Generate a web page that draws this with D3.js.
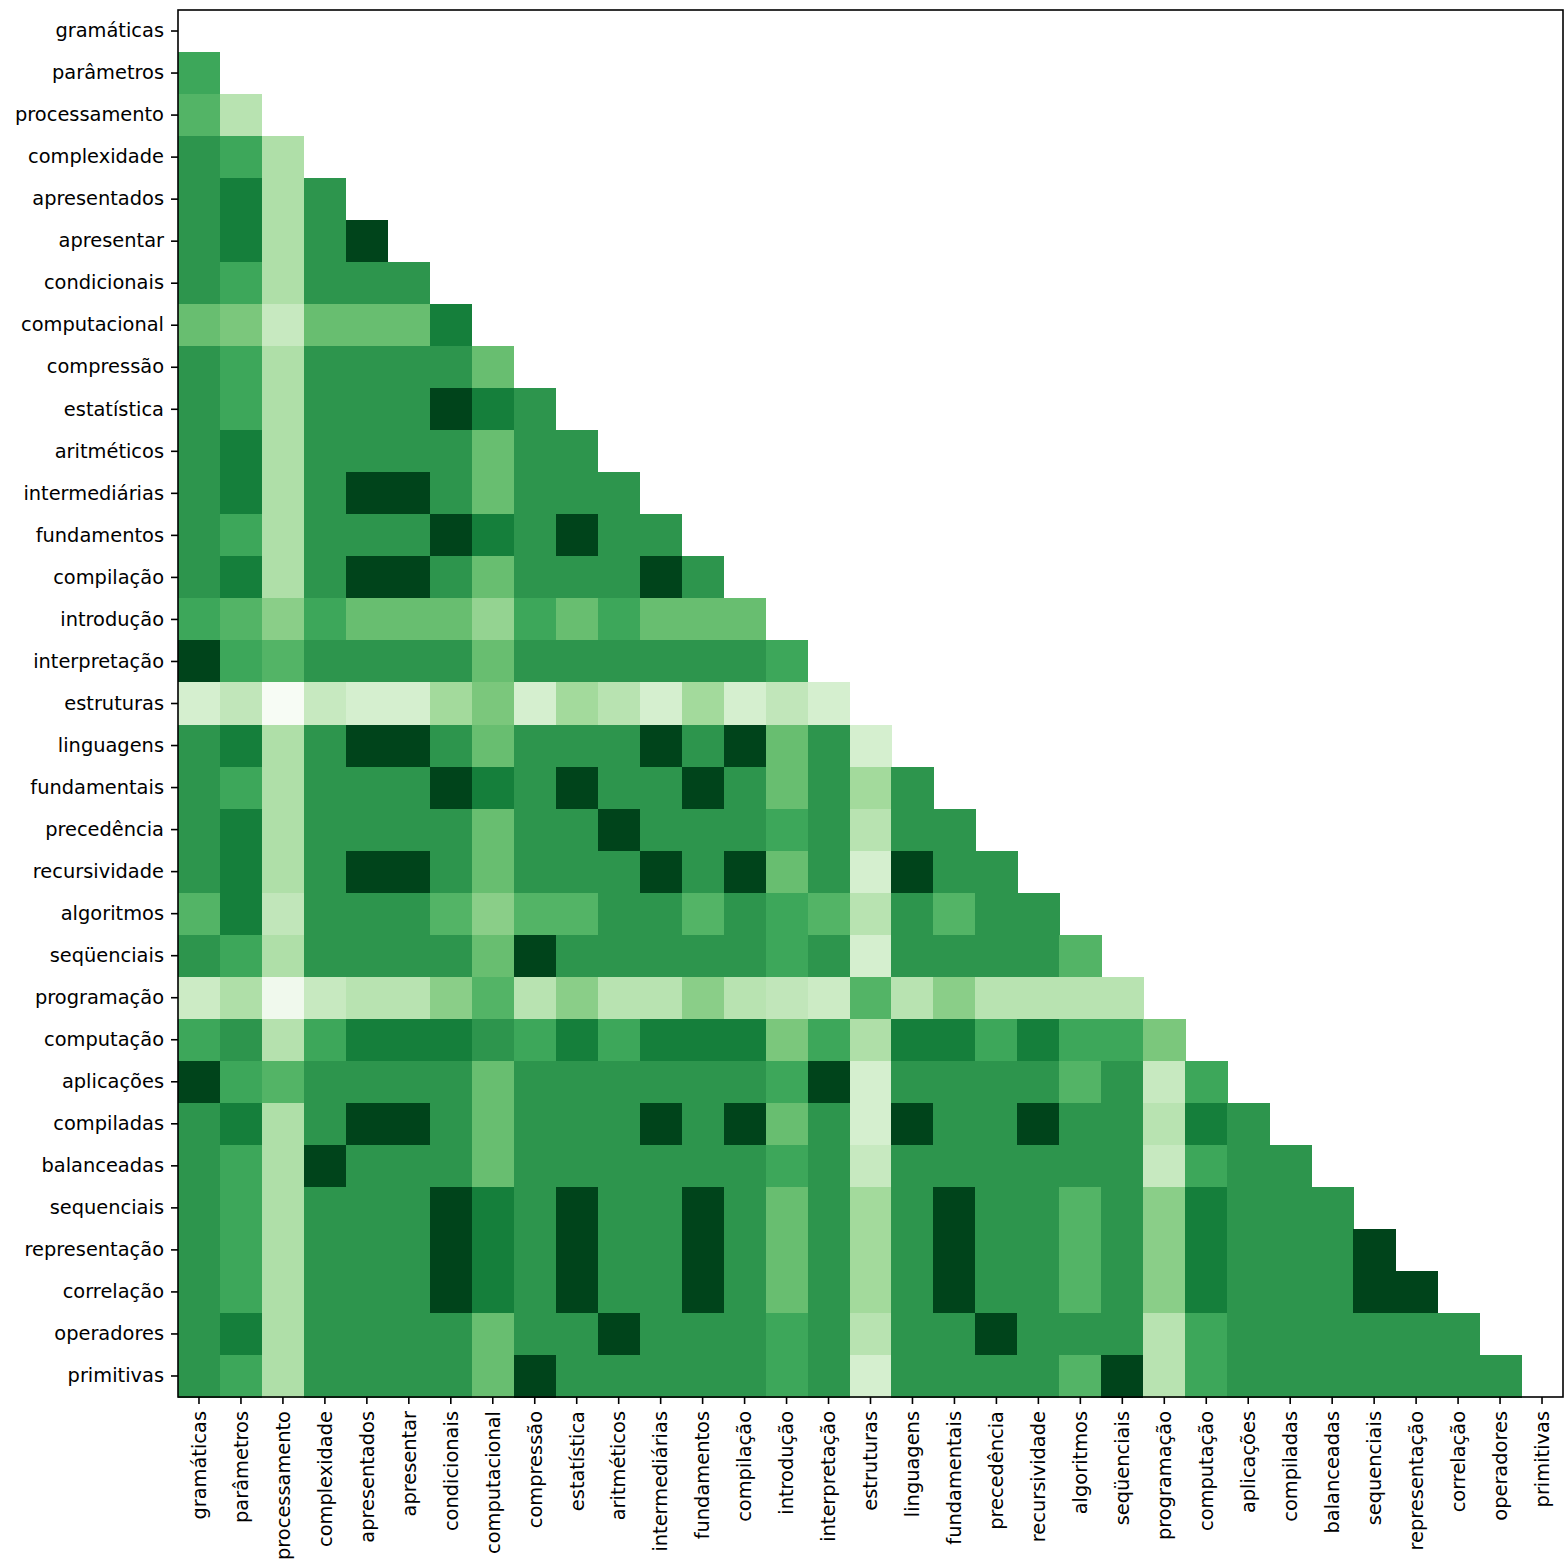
<!DOCTYPE html>
<html>
<head>
<meta charset="utf-8">
<script src="https://cdn.jsdelivr.net/npm/d3@7"></script>
<style>
  html, body { margin: 0; padding: 0; background: #fff; }
  svg { display: block; }
  .tick text { font-family: "DejaVu Sans", sans-serif; font-size: 19.4px; fill: #000; }
  .tick line { stroke: #000; stroke-width: 1.6px; }
</style>
</head>
<body>
<svg id="chart" width="1564" height="1563"></svg>
<script>
// Terms shown on both axes, in matrix order
const terms = [
  "gramáticas", "parâmetros", "processamento", "complexidade", "apresentados",
  "apresentar", "condicionais", "computacional", "compressão", "estatística",
  "aritméticos", "intermediárias", "fundamentos", "compilação", "introdução",
  "interpretação", "estruturas", "linguagens", "fundamentais", "precedência",
  "recursividade", "algoritmos", "seqüenciais", "programação", "computação",
  "aplicações", "compiladas", "balanceadas", "sequenciais", "representação",
  "correlação", "operadores", "primitivas"
];

// Lower-triangle similarity values: row i holds columns 0..i-1
const similarity = [
  [],
  [0.64],
  [0.58, 0.30],
  [0.71, 0.64, 0.33],
  [0.71, 0.80, 0.33, 0.71],
  [0.71, 0.80, 0.33, 0.71, 1.00],
  [0.71, 0.64, 0.33, 0.71, 0.71, 0.71],
  [0.53, 0.48, 0.25, 0.53, 0.53, 0.53, 0.80],
  [0.71, 0.64, 0.33, 0.71, 0.71, 0.71, 0.71, 0.53],
  [0.71, 0.64, 0.33, 0.71, 0.71, 0.71, 1.00, 0.80, 0.71],
  [0.71, 0.80, 0.33, 0.71, 0.71, 0.71, 0.71, 0.53, 0.71, 0.71],
  [0.71, 0.80, 0.33, 0.71, 1.00, 1.00, 0.71, 0.53, 0.71, 0.71, 0.71],
  [0.71, 0.64, 0.33, 0.71, 0.71, 0.71, 1.00, 0.80, 0.71, 1.00, 0.71, 0.71],
  [0.71, 0.80, 0.33, 0.71, 1.00, 1.00, 0.71, 0.53, 0.71, 0.71, 0.71, 1.00, 0.71],
  [0.64, 0.58, 0.44, 0.64, 0.53, 0.53, 0.53, 0.41, 0.64, 0.53, 0.64, 0.53, 0.53, 0.53],
  [1.00, 0.64, 0.58, 0.71, 0.71, 0.71, 0.71, 0.53, 0.71, 0.71, 0.71, 0.71, 0.71, 0.71, 0.64],
  [0.19, 0.27, 0.00, 0.25, 0.19, 0.19, 0.37, 0.48, 0.19, 0.37, 0.30, 0.19, 0.37, 0.19, 0.27, 0.19],
  [0.71, 0.80, 0.33, 0.71, 1.00, 1.00, 0.71, 0.53, 0.71, 0.71, 0.71, 1.00, 0.71, 1.00, 0.53, 0.71, 0.19],
  [0.71, 0.64, 0.33, 0.71, 0.71, 0.71, 1.00, 0.80, 0.71, 1.00, 0.71, 0.71, 1.00, 0.71, 0.53, 0.71, 0.37, 0.71],
  [0.71, 0.80, 0.33, 0.71, 0.71, 0.71, 0.71, 0.53, 0.71, 0.71, 1.00, 0.71, 0.71, 0.71, 0.64, 0.71, 0.30, 0.71, 0.71],
  [0.71, 0.80, 0.33, 0.71, 1.00, 1.00, 0.71, 0.53, 0.71, 0.71, 0.71, 1.00, 0.71, 1.00, 0.53, 0.71, 0.19, 1.00, 0.71, 0.71],
  [0.58, 0.80, 0.27, 0.71, 0.71, 0.71, 0.58, 0.44, 0.58, 0.58, 0.71, 0.71, 0.58, 0.71, 0.64, 0.58, 0.30, 0.71, 0.58, 0.71, 0.71],
  [0.71, 0.64, 0.33, 0.71, 0.71, 0.71, 0.71, 0.53, 1.00, 0.71, 0.71, 0.71, 0.71, 0.71, 0.64, 0.71, 0.19, 0.71, 0.71, 0.71, 0.71, 0.58],
  [0.23, 0.33, 0.05, 0.25, 0.30, 0.30, 0.44, 0.58, 0.30, 0.44, 0.30, 0.30, 0.44, 0.30, 0.27, 0.23, 0.58, 0.30, 0.44, 0.30, 0.30, 0.30, 0.30],
  [0.64, 0.71, 0.31, 0.64, 0.80, 0.80, 0.80, 0.71, 0.64, 0.80, 0.64, 0.80, 0.80, 0.80, 0.48, 0.64, 0.33, 0.80, 0.80, 0.64, 0.80, 0.64, 0.64, 0.48],
  [1.00, 0.64, 0.58, 0.71, 0.71, 0.71, 0.71, 0.53, 0.71, 0.71, 0.71, 0.71, 0.71, 0.71, 0.64, 1.00, 0.19, 0.71, 0.71, 0.71, 0.71, 0.58, 0.71, 0.25, 0.64],
  [0.71, 0.80, 0.33, 0.71, 1.00, 1.00, 0.71, 0.53, 0.71, 0.71, 0.71, 1.00, 0.71, 1.00, 0.53, 0.71, 0.19, 1.00, 0.71, 0.71, 1.00, 0.71, 0.71, 0.30, 0.80, 0.71],
  [0.71, 0.64, 0.33, 1.00, 0.71, 0.71, 0.71, 0.53, 0.71, 0.71, 0.71, 0.71, 0.71, 0.71, 0.64, 0.71, 0.25, 0.71, 0.71, 0.71, 0.71, 0.71, 0.71, 0.25, 0.64, 0.71, 0.71],
  [0.71, 0.64, 0.33, 0.71, 0.71, 0.71, 1.00, 0.80, 0.71, 1.00, 0.71, 0.71, 1.00, 0.71, 0.53, 0.71, 0.37, 0.71, 1.00, 0.71, 0.71, 0.58, 0.71, 0.44, 0.80, 0.71, 0.71, 0.71],
  [0.71, 0.64, 0.33, 0.71, 0.71, 0.71, 1.00, 0.80, 0.71, 1.00, 0.71, 0.71, 1.00, 0.71, 0.53, 0.71, 0.37, 0.71, 1.00, 0.71, 0.71, 0.58, 0.71, 0.44, 0.80, 0.71, 0.71, 0.71, 1.00],
  [0.71, 0.64, 0.33, 0.71, 0.71, 0.71, 1.00, 0.80, 0.71, 1.00, 0.71, 0.71, 1.00, 0.71, 0.53, 0.71, 0.37, 0.71, 1.00, 0.71, 0.71, 0.58, 0.71, 0.44, 0.80, 0.71, 0.71, 0.71, 1.00, 1.00],
  [0.71, 0.80, 0.33, 0.71, 0.71, 0.71, 0.71, 0.53, 0.71, 0.71, 1.00, 0.71, 0.71, 0.71, 0.64, 0.71, 0.30, 0.71, 0.71, 1.00, 0.71, 0.71, 0.71, 0.30, 0.64, 0.71, 0.71, 0.71, 0.71, 0.71, 0.71],
  [0.71, 0.64, 0.33, 0.71, 0.71, 0.71, 0.71, 0.53, 1.00, 0.71, 0.71, 0.71, 0.71, 0.71, 0.64, 0.71, 0.19, 0.71, 0.71, 0.71, 0.71, 0.58, 1.00, 0.30, 0.64, 0.71, 0.71, 0.71, 0.71, 0.71, 0.71, 0.71]
];

// Sequential green palette, evenly spaced stops
const greens = ["#f7fcf5", "#e5f5e0", "#c7e9c0", "#a1d99b", "#74c476",
                "#41ab5d", "#238b45", "#006d2c", "#00441b"];

const plot = { left: 178, top: 10, right: 1563, bottom: 1397 };

const svg = d3.select("#chart");

const x = d3.scaleBand().domain(terms).range([plot.left, plot.right]).padding(0);
const y = d3.scaleBand().domain(terms).range([plot.top, plot.bottom]).padding(0);
const color = d3.scaleLinear()
  .domain(greens.map((_, i) => i / (greens.length - 1)))
  .range(greens)
  .interpolate(d3.interpolateRgb)
  .clamp(true);

// Flatten the triangle into cells
const cells = [];
similarity.forEach((row, i) => {
  row.forEach((v, j) => cells.push({ row: terms[i], col: terms[j], value: v }));
});

svg.append("g")
  .selectAll("rect")
  .data(cells)
  .join("rect")
    .attr("x", d => x(d.col))
    .attr("y", d => y(d.row))
    .attr("width", x.bandwidth() + 0.5)
    .attr("height", y.bandwidth() + 0.5)
    .attr("fill", d => color(d.value))
    .attr("shape-rendering", "crispEdges");

// Axes
const yAxis = svg.append("g")
  .attr("transform", `translate(${plot.left},0)`)
  .call(d3.axisLeft(y).tickSize(7).tickPadding(7));
yAxis.select(".domain").remove();

const xAxis = svg.append("g")
  .attr("transform", `translate(0,${plot.bottom})`)
  .call(d3.axisBottom(x).tickSize(7).tickPadding(7));
xAxis.select(".domain").remove();
xAxis.selectAll(".tick text")
  .attr("transform", "rotate(-90)")
  .attr("x", -14)
  .attr("y", 0)
  .attr("dy", "0.35em")
  .style("text-anchor", "end");

// Frame around the plotting area
svg.append("rect")
  .attr("x", plot.left)
  .attr("y", plot.top)
  .attr("width", plot.right - plot.left)
  .attr("height", plot.bottom - plot.top)
  .attr("fill", "none")
  .attr("stroke", "#000")
  .attr("stroke-width", 1.6);
</script>
</body>
</html>
